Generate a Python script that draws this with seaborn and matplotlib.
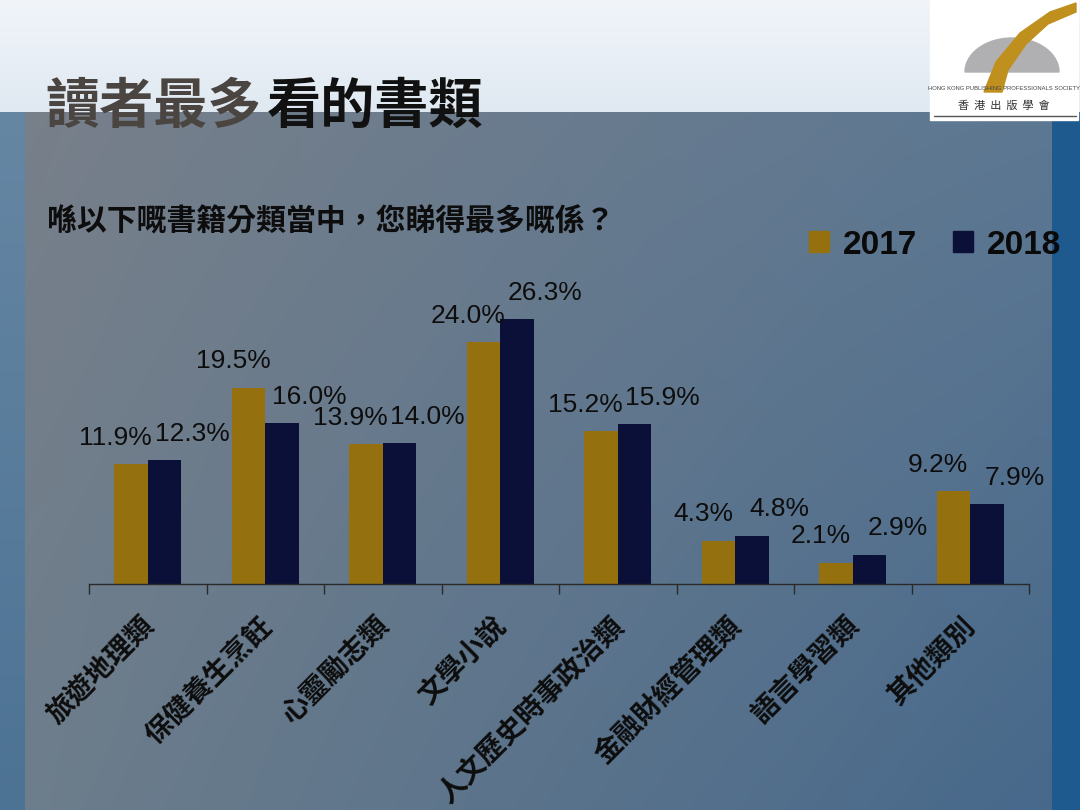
import numpy as np
import pandas as pd
import seaborn as sns
import matplotlib.pyplot as plt
from matplotlib.patches import Patch, Rectangle, Polygon
from matplotlib.transforms import ScaledTranslation

# Daten
categories = ["旅遊地理類", "保健養生烹飪", "心靈勵志類", "文學小說",
              "人文歷史時事政治類", "金融財經管理類", "語言學習類", "其他類別"]
years = ["2017", "2018"]
values_2017 = [11.9, 19.5, 13.9, 24.0, 15.2, 4.3, 2.1, 9.2]
values_2018 = [12.3, 16.0, 14.0, 26.3, 15.9, 4.8, 2.9, 7.9]
colors = {"2017": "#94700f", "2018": "#0b1038"}

df = pd.DataFrame({
    "category": categories * 2,
    "year": ["2017"] * len(categories) + ["2018"] * len(categories),
    "percent": values_2017 + values_2018,
})

sns.set_theme(style="white")
plt.rcParams["font.family"] = ["Liberation Sans", "Noto Sans CJK TC", "DejaVu Sans"]

fig = plt.figure(figsize=(10.8, 8.1), dpi=100)

# Hintergrund (Folie)
bg = fig.add_axes([0, 0, 1, 1])
bg.set_xlim(0, 1080)
bg.set_ylim(810, 0)
bg.axis("off")

H, W = 810, 1080
img = np.zeros((H, W, 3))
yy, xx = np.mgrid[0:H, 0:W]
fx = xx / W
fy = yy / H


def hexrgb(h):
    h = h.lstrip("#")
    return np.array([int(h[i:i + 2], 16) / 255 for i in (0, 2, 4)])


tl, tr, bl, br = hexrgb("#7a8089"), hexrgb("#5f7a94"), hexrgb("#6e7e8c"), hexrgb("#46688b")
for c in range(3):
    img[..., c] = (tl[c] * (1 - fx) * (1 - fy) + tr[c] * fx * (1 - fy)
                   + bl[c] * (1 - fx) * fy + br[c] * fx * fy)
top_a, top_b = hexrgb("#f1f5fa"), hexrgb("#dfe8f1")
top = yy < 112
for c in range(3):
    img[..., c] = np.where(top, top_a[c] * (1 - fy * 7) + top_b[c] * fy * 7, img[..., c])
left = (xx < 25) & ~top
lc1, lc2 = hexrgb("#6a8aa6"), hexrgb("#4c7294")
for c in range(3):
    img[..., c] = np.where(left, lc1[c] * (1 - fy) + lc2[c] * fy, img[..., c])
right = (xx >= 1052) & ~top
rc = hexrgb("#1f5a8e")
for c in range(3):
    img[..., c] = np.where(right, rc[c], img[..., c])
bg.imshow(img, extent=(0, 1080, 810, 0), aspect="auto", zorder=0)

# Logo
bg.add_patch(Rectangle((930, 0), 148, 120, color="white", zorder=1))
t = np.linspace(0, np.pi, 60)
dome = np.column_stack([1012 + 47 * np.cos(t), 72 - 34 * np.sin(t)])
bg.add_patch(Polygon(dome, closed=True, color="#b0b0b2", zorder=2))
stroke = [(984, 92), (996, 62), (1020, 33), (1050, 12), (1076, 3),
          (1076, 12), (1048, 24), (1026, 44), (1008, 70), (1002, 92)]
bg.add_patch(Polygon(stroke, closed=True, color="#c0901e", zorder=3))
bg.text(1004, 89, "HONG KONG PUBLISHING PROFESSIONALS SOCIETY", fontsize=4.2,
        ha="center", va="center", color="#444444", zorder=4)
bg.text(1004, 106, "香  港  出  版  學  會", fontsize=8, ha="center", va="center",
        color="#333333", family=["Noto Sans CJK TC"], zorder=4)
bg.plot([934, 1076], [116, 116], color="#555555", lw=1, zorder=4)

# Titel
bg.text(45, 107, "讀者最多", fontsize=39, color="#4b4541", ha="left", va="center",
        family=["Noto Sans CJK TC"], fontweight="bold", zorder=5)
bg.text(267, 107, "看的書類", fontsize=39, color="#111111", ha="left", va="center",
        family=["Noto Sans CJK TC"], fontweight="bold", zorder=5)
bg.text(47, 222, "喺以下嘅書籍分類當中，您睇得最多嘅係？", fontsize=21.5, color="#0d0d0d",
        ha="left", va="center", family=["Noto Sans CJK TC"], fontweight="bold", zorder=5)

# Diagramm
ax = fig.add_axes([89 / 1080, 226 / 810, 940 / 1080, 302 / 810])
ax.set_facecolor("none")
sns.barplot(data=df, x="category", y="percent", hue="year", hue_order=years,
            order=categories, palette=colors, width=0.57, saturation=1,
            linewidth=0, legend=False, ax=ax)
ax.set_ylim(0, 30)
ax.set_xlim(-0.5, len(categories) - 0.5)
ax.set_xlabel("")
ax.set_ylabel("")
ax.set_yticks([])
for s in ["top", "left", "right"]:
    ax.spines[s].set_visible(False)
ax.spines["bottom"].set_color("#2a2a2a")
ax.spines["bottom"].set_linewidth(1)

ax.set_xticks(np.arange(-0.5, len(categories), 1), minor=True)
ax.tick_params(axis="x", which="minor", length=7, width=1, color="#2a2a2a",
               direction="out", bottom=True)
ax.tick_params(axis="x", which="major", length=0, pad=20)
ax.set_xticks(range(len(categories)))
ax.set_xticklabels(categories, rotation=45, ha="right", rotation_mode="anchor",
                   fontsize=20, fontweight="bold", color="#0d0d0d",
                   family=["Noto Sans CJK TC"])
shift = ScaledTranslation(-8 / 100, 0, fig.dpi_scale_trans)
for lbl in ax.get_xticklabels():
    lbl.set_transform(lbl.get_transform() + shift)

# Beschriftungen
offsets = {"2017": (-11, 19), "2018": (20, 19)}
for year, cont in zip(years, ax.containers):
    dx, dy = offsets[year]
    for bar in cont:
        h = bar.get_height()
        ax.annotate(f"{h:.1f}%", (bar.get_x() + bar.get_width() / 2, h),
                    xytext=(dx, dy), textcoords="offset points", ha="center",
                    va="center", fontsize=19, color="#0d0d0d",
                    family=["Liberation Sans"], annotation_clip=False)

handles = [Patch(color=colors[y], label=y) for y in years]
fig.legend(handles=handles, loc="center", bbox_to_anchor=(935 / 1080, 1 - 245 / 810),
           ncol=2, frameon=False, handlelength=0.6, handleheight=0.6,
           handletextpad=0.4, columnspacing=1.1, labelcolor="#0a0a0a",
           prop={"family": "Liberation Sans", "weight": "bold", "size": 24})

fig.savefig("out.png", dpi=100)
